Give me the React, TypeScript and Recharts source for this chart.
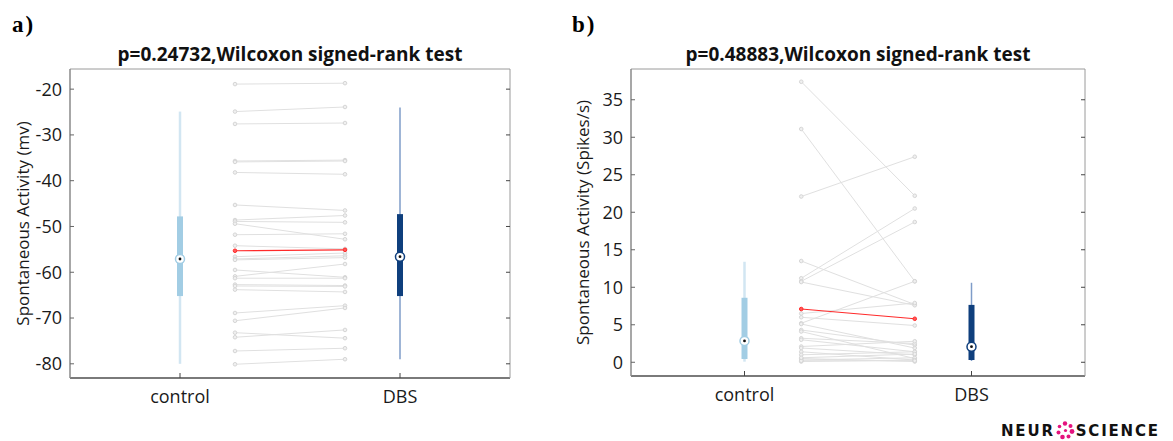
import { ComposedChart, Line, Scatter, XAxis, YAxis } from "recharts";

const groups = ["control", "DBS"];
const groupX = [1, 2];
const pairX = [1.25, 1.75];

// a) membrane potential, one pair per cell (control -> DBS)
const mvControl = [
	-18.9, -24.9, -27.6, -35.7, -35.9, -38.2, -45.3, -48.6, -48.9, -49.4, -51.8, -54.2, -56.6, -57.1,
	-57.3, -59.5, -60.9, -61.3, -62.7, -63.0, -63.8, -68.9, -70.6, -73.2, -74.2, -77.2, -80.1,
];
const mvDbs = [
	-18.7, -23.9, -27.4, -35.5, -35.7, -38.6, -46.5, -47.6, -49.1, -52.8, -51.6, -54.9, -55.8, -56.4,
	-56.8, -61.1, -58.2, -61.3, -62.9, -63.1, -64.3, -67.3, -67.8, -74.4, -72.6, -76.6, -79.0,
];
const mvHighlight = [-55.3, -55.1];
// min, q1, median, q3, max
const mvBoxControl = [-80.0, -65.2, -57.1, -47.8, -24.9];
const mvBoxDbs = [-79.0, -65.2, -56.6, -47.3, -24.0];
const mvTicks = [-80, -70, -60, -50, -40, -30, -20];

// b) firing rate
const spikesControl = [
	37.4, 31.1, 22.1, 13.5, 11.2, 10.8, 10.7, 6.5, 6.0, 5.2, 5.1, 4.3, 4.1, 3.2, 3.0, 2.1, 1.9, 1.4,
	1.0, 0.5, 0.3, 0.1, 0.2, 0.6,
];
const spikesDbs = [
	22.2, 10.8, 27.4, 7.7, 20.5, 18.7, 7.6, 7.9, 4.9, 10.8, 1.9, 2.3, 0.5, 2.5, 1.4, 2.8, 1.0, 0.3,
	1.4, 0.1, 0.6, 0.3, 0.2, 1.1,
];
const spikesHighlight = [7.1, 5.8];
const spikesBoxControl = [0.08, 0.44, 2.85, 8.6, 13.4];
const spikesBoxDbs = [0.17, 0.3, 2.08, 7.65, 10.6];
const spikesTicks = [0, 5, 10, 15, 20, 25, 30, 35];

const FONT = "'Open Sans', sans-serif";

interface PanelProps {
	left: number;
	width: number;
	axisWidth: number;
	marginRight: number;
	marginBottom: number;
	letter: string;
	title: string;
	yLabel: string;
	before: number[];
	after: number[];
	highlight: number[];
	boxBefore: number[];
	boxAfter: number[];
	domain: [number, number];
	ticks: number[];
}

const medianShape = (color: string) => (props: any) => (
	<g>
		<circle cx={props.cx} cy={props.cy} r={4.5} fill="#fff" stroke={color} strokeWidth={1.5} />
		<circle cx={props.cx} cy={props.cy} r={1.4} fill="#111" />
	</g>
);

function BoxPlot(x: number, stats: number[], boxColor: string, whiskerColor: string, whiskerWidth: number, key: string) {
	return [
		<Line
			key={`${key}-w`}
			data={[
				{ x, y: stats[0] },
				{ x, y: stats[4] },
			]}
			dataKey="y"
			stroke={whiskerColor}
			strokeWidth={whiskerWidth}
			dot={false}
			activeDot={false}
			isAnimationActive={false}
		/>,
		<Line
			key={`${key}-b`}
			data={[
				{ x, y: stats[1] },
				{ x, y: stats[3] },
			]}
			dataKey="y"
			stroke={boxColor}
			strokeWidth={6}
			dot={false}
			activeDot={false}
			isAnimationActive={false}
		/>,
		<Scatter
			key={`${key}-m`}
			data={[{ x, y: stats[2] }]}
			dataKey="y"
			shape={medianShape(boxColor)}
			isAnimationActive={false}
		/>,
	];
}

function PairedPanel(p: PanelProps) {
	const plotLeft = p.axisWidth;
	const plotRight = p.width - p.marginRight - 1;
	const pairs = p.before.map((v, i) => [
		{ x: pairX[0], y: v },
		{ x: pairX[1], y: p.after[i] },
	]);
	const red = [
		{ x: pairX[0], y: p.highlight[0] },
		{ x: pairX[1], y: p.highlight[1] },
	];

	return (
		<div style={{ position: "absolute", left: p.left, top: 0, width: p.width, height: 441, fontFamily: FONT }}>
			<div
				style={{
					position: "absolute",
					left: 12,
					top: 13,
					fontFamily: "'Liberation Serif', serif",
					fontWeight: 700,
					fontSize: 23,
					letterSpacing: 2,
					lineHeight: "24px",
				}}
			>
				{p.letter}
			</div>
			<div
				style={{
					position: "absolute",
					left: plotLeft - 20,
					width: plotRight - plotLeft + 40,
					top: 43,
					textAlign: "center",
					fontWeight: 700,
					fontSize: 19,
					lineHeight: "22px",
					color: "#111",
				}}
			>
				{p.title}
			</div>
			<ComposedChart
				width={p.width}
				height={441}
				margin={{ top: 68, right: p.marginRight, bottom: p.marginBottom, left: 0 }}
			>
				<XAxis
					type="number"
					dataKey="x"
					domain={[0.5, 2.5]}
					ticks={groupX}
					tickFormatter={(v) => groups[groupX.indexOf(v)]}
					allowDataOverflow
					height={40}
					tickSize={-5}
					tickMargin={17}
					axisLine={{ stroke: "#7a7a7a", strokeWidth: 2 }}
					tickLine={{ stroke: "#444" }}
					tick={{ fontSize: 18, fill: "#1a1a1a" }}
				/>
				<XAxis
					xAxisId="top"
					orientation="top"
					type="number"
					domain={[0.5, 2.5]}
					ticks={groupX}
					tickFormatter={() => ""}
					height={1}
					tickSize={-5}
					axisLine={{ stroke: "#9a9a9a" }}
					tickLine={{ stroke: "#444" }}
				/>
				<YAxis
					type="number"
					domain={p.domain}
					ticks={p.ticks}
					allowDataOverflow
					width={p.axisWidth}
					tickSize={-4}
					tickMargin={12}
					axisLine={{ stroke: "#8a8a8a", strokeWidth: 1.5 }}
					tickLine={{ stroke: "#666" }}
					tick={{ fontSize: 18, fill: "#1a1a1a" }}
					label={{
						value: p.yLabel,
						angle: -90,
						position: "insideLeft",
						offset: 23,
						style: { textAnchor: "middle", fontSize: 17, fill: "#1a1a1a" },
					}}
				/>
				<YAxis
					yAxisId="right"
					orientation="right"
					type="number"
					domain={p.domain}
					ticks={p.ticks}
					allowDataOverflow
					width={1}
					tickSize={-4}
					tickFormatter={() => ""}
					axisLine={{ stroke: "#9a9a9a" }}
					tickLine={{ stroke: "#444" }}
				/>

				{pairs.map((d, i) => (
					<Line
						key={`pair-${i}`}
						data={d}
						dataKey="y"
						stroke="#e0e0e0"
						strokeWidth={1}
						dot={{ r: 1.8, fill: "#f0f0f0", stroke: "#d6d6d6", strokeWidth: 1 }}
						activeDot={false}
						isAnimationActive={false}
					/>
				))}
				<Line
					data={red}
					dataKey="y"
					stroke="#ff2a2a"
					strokeWidth={1.2}
					dot={{ r: 1.8, fill: "#ff5a5a", stroke: "#ff2a2a", strokeWidth: 1 }}
					activeDot={false}
					isAnimationActive={false}
				/>

				{BoxPlot(groupX[0], p.boxBefore, "#a2cde4", "#d2e6f2", 2.5, "c")}
				{BoxPlot(groupX[1], p.boxAfter, "#0f3f7d", "#7f9cc8", 1.5, "d")}
			</ComposedChart>
		</div>
	);
}

function Logo() {
	const dots = [
		[9, 2.5, 2.2],
		[14.5, 5, 2],
		[16, 10.5, 2.4],
		[12.5, 15.5, 2],
		[6.5, 16, 2.3],
		[2.5, 11.5, 2],
		[3.5, 5.5, 1.8],
		[9.5, 9.5, 1.6],
	];
	return (
		<div
			style={{
				position: "absolute",
				left: 1001,
				top: 421,
				display: "flex",
				alignItems: "center",
				fontFamily: "'DejaVu Sans', sans-serif",
				fontWeight: 700,
				fontSize: 15,
				letterSpacing: 1.8,
				lineHeight: "18px",
				color: "#111",
			}}
		>
			<span>NEUR</span>
			<svg width={19} height={19} style={{ margin: "0 1px" }}>
				{dots.map(([cx, cy, r], i) => (
					<circle key={i} cx={cx} cy={cy} r={r} fill="#e4137e" />
				))}
			</svg>
			<span>SCIENCE</span>
		</div>
	);
}

export default function App() {
	return (
		<div style={{ position: "absolute", left: 0, top: 0, width: 1173, height: 441, background: "#fff" }}>
			<PairedPanel
				left={0}
				width={560}
				axisWidth={70}
				marginRight={49}
				marginBottom={23}
				letter="a)"
				title="p=0.24732,Wilcoxon signed-rank test"
				yLabel="Spontaneous Activity (mv)"
				before={mvControl}
				after={mvDbs}
				highlight={mvHighlight}
				boxBefore={mvBoxControl}
				boxAfter={mvBoxDbs}
				domain={[-83.1, -15.6]}
				ticks={mvTicks}
			/>
			<PairedPanel
				left={560}
				width={560}
				axisWidth={71}
				marginRight={34}
				marginBottom={25}
				letter="b)"
				title="p=0.48883,Wilcoxon signed-rank test"
				yLabel="Spontaneous Activity (Spikes/s)"
				before={spikesControl}
				after={spikesDbs}
				highlight={spikesHighlight}
				boxBefore={spikesBoxControl}
				boxAfter={spikesBoxDbs}
				domain={[-1.83, 39.1]}
				ticks={spikesTicks}
			/>
			<Logo />
		</div>
	);
}
